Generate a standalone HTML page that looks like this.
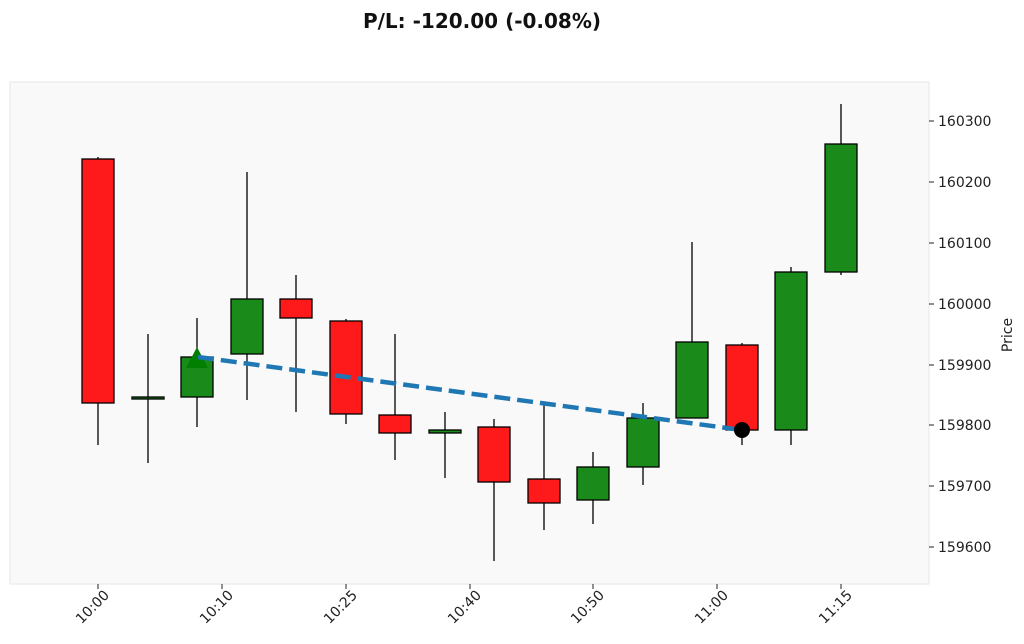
<!DOCTYPE html>
<html><head><meta charset="utf-8"><style>body{margin:0;background:#fff}svg{display:block}</style></head><body>
<svg width="1024" height="644" xmlns="http://www.w3.org/2000/svg" font-family="DejaVu Sans, Liberation Sans, sans-serif">
<text x="482" y="28" text-anchor="middle" font-size="20" font-weight="bold" fill="#111">P/L: -120.00 (-0.08%)</text>
<rect x="10" y="82" width="919" height="502" fill="#f9f9f9" stroke="#e6e6e6"/>
<g stroke="#000" stroke-width="1.3">
<line x1="98" y1="157" x2="98" y2="445"/><rect x="82" y="159" width="32" height="244" fill="#fe1a1a"/>
<line x1="148" y1="334" x2="148" y2="463"/><rect x="132" y="397" width="32" height="2" fill="#1a8a1a"/>
<line x1="197" y1="318" x2="197" y2="427"/><rect x="181" y="357" width="32" height="40" fill="#1a8a1a"/>
<line x1="247" y1="172" x2="247" y2="400"/><rect x="231" y="299" width="32" height="55" fill="#1a8a1a"/>
<line x1="296" y1="275" x2="296" y2="412"/><rect x="280" y="299" width="32" height="19" fill="#fe1a1a"/>
<line x1="346" y1="319" x2="346" y2="424"/><rect x="330" y="321" width="32" height="93" fill="#fe1a1a"/>
<line x1="395" y1="334" x2="395" y2="460"/><rect x="379" y="415" width="32" height="18" fill="#fe1a1a"/>
<line x1="445" y1="412" x2="445" y2="478"/><rect x="429" y="430" width="32" height="3" fill="#1a8a1a"/>
<line x1="494" y1="419" x2="494" y2="561"/><rect x="478" y="427" width="32" height="55" fill="#fe1a1a"/>
<line x1="544" y1="404" x2="544" y2="530"/><rect x="528" y="479" width="32" height="24" fill="#fe1a1a"/>
<line x1="593" y1="452" x2="593" y2="524"/><rect x="577" y="467" width="32" height="33" fill="#1a8a1a"/>
<line x1="643" y1="403" x2="643" y2="485"/><rect x="627" y="418" width="32" height="49" fill="#1a8a1a"/>
<line x1="692" y1="242" x2="692" y2="418"/><rect x="676" y="342" width="32" height="76" fill="#1a8a1a"/>
<line x1="742" y1="343" x2="742" y2="445"/><rect x="726" y="345" width="32" height="85" fill="#fe1a1a"/>
<line x1="791" y1="267" x2="791" y2="445"/><rect x="775" y="272" width="32" height="158" fill="#1a8a1a"/>
<line x1="841" y1="104" x2="841" y2="275"/><rect x="825" y="144" width="32" height="128" fill="#1a8a1a"/>
</g>
<polygon points="197,347 186,368 208,368" fill="#007f00"/>
<line x1="198" y1="357" x2="742" y2="430" stroke="#1f77b4" stroke-width="4.5" stroke-dasharray="16,7"/>
<circle cx="742" cy="430" r="8" fill="#000"/>
<g font-size="14" fill="#222" stroke="#222">
<line x1="929" y1="121" x2="934" y2="121"/><text x="938" y="126" stroke="none">160300</text>
<line x1="929" y1="182" x2="934" y2="182"/><text x="938" y="187" stroke="none">160200</text>
<line x1="929" y1="243" x2="934" y2="243"/><text x="938" y="248" stroke="none">160100</text>
<line x1="929" y1="304" x2="934" y2="304"/><text x="938" y="309" stroke="none">160000</text>
<line x1="929" y1="365" x2="934" y2="365"/><text x="938" y="370" stroke="none">159900</text>
<line x1="929" y1="425" x2="934" y2="425"/><text x="938" y="430" stroke="none">159800</text>
<line x1="929" y1="486" x2="934" y2="486"/><text x="938" y="491" stroke="none">159700</text>
<line x1="929" y1="547" x2="934" y2="547"/><text x="938" y="552" stroke="none">159600</text>
</g>
<text transform="translate(1012,335) rotate(-90)" text-anchor="middle" font-size="14" fill="#222">Price</text>
<g font-size="14" fill="#222" stroke="#222">
<line x1="98" y1="584" x2="98" y2="589"/><text transform="translate(110,596) rotate(-45)" text-anchor="end" stroke="none">10:00</text>
<line x1="222" y1="584" x2="222" y2="589"/><text transform="translate(234,596) rotate(-45)" text-anchor="end" stroke="none">10:10</text>
<line x1="346" y1="584" x2="346" y2="589"/><text transform="translate(358,596) rotate(-45)" text-anchor="end" stroke="none">10:25</text>
<line x1="470" y1="584" x2="470" y2="589"/><text transform="translate(482,596) rotate(-45)" text-anchor="end" stroke="none">10:40</text>
<line x1="593" y1="584" x2="593" y2="589"/><text transform="translate(605,596) rotate(-45)" text-anchor="end" stroke="none">10:50</text>
<line x1="717" y1="584" x2="717" y2="589"/><text transform="translate(729,596) rotate(-45)" text-anchor="end" stroke="none">11:00</text>
<line x1="841" y1="584" x2="841" y2="589"/><text transform="translate(853,596) rotate(-45)" text-anchor="end" stroke="none">11:15</text>
</g>
</svg>
</body></html>
